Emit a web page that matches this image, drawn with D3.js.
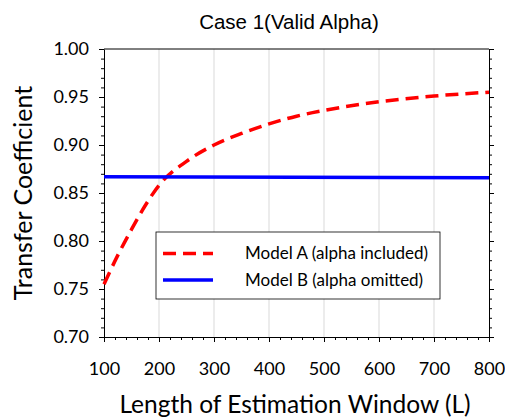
<!DOCTYPE html>
<html>
<head>
<meta charset="utf-8">
<script src="https://cdn.jsdelivr.net/npm/d3@7"></script>
<style>
  body { margin: 0; background: #fff; }
  text { fill: #000; }
</style>
</head>
<body>
<script>
// chart values
const windowLen = [100, 125, 150, 175, 200, 250, 300, 350, 400, 450, 500, 600, 700, 800];
const modelA = [0.755, 0.785, 0.812, 0.837, 0.858, 0.883, 0.900, 0.912, 0.922, 0.930, 0.936, 0.945, 0.951, 0.955];
const modelBx = [100, 800];
const modelB = [0.867, 0.866];
const xTicks = [100, 200, 300, 400, 500, 600, 700, 800];
const yTicks = [0.70, 0.75, 0.80, 0.85, 0.90, 0.95, 1.00];
const seriesNames = ["Model A (alpha included)", "Model B (alpha omitted)"];

const width = 505;
const height = 420;
const plotL = 104, plotR = 489, plotT = 49, plotB = 337;

const svg = d3.select("body")
              .append("svg")
              .attr("width", width)
              .attr("height", height);

let x = d3.scaleLinear().domain([100, 800]).range([plotL, plotR]);
let y = d3.scaleLinear().domain([0.70, 1.00]).range([plotB, plotT]);

// vertical grid
svg.append("g")
   .selectAll("line")
   .data(xTicks.slice(1, -1))
   .enter()
   .append("line")
   .attr("x1", d => x(d)).attr("x2", d => x(d))
   .attr("y1", plotT).attr("y2", plotB)
   .attr("stroke", "#d9d9d9")
   .attr("stroke-width", 1);

const fontTick = "Lato, 'Open Sans', sans-serif";

// x axis: major + minor ticks
const xMinor = d3.range(100, 801, 20);
svg.append("g")
   .attr("transform", "translate(0," + plotB + ")")
   .call(d3.axisBottom(x).tickValues(xMinor).tickSize(3).tickFormat(""))
   .call(g => g.select(".domain").remove());
svg.append("g")
   .attr("transform", "translate(0," + plotB + ")")
   .call(d3.axisBottom(x).tickValues(xTicks).tickSize(5).tickPadding(20).tickSizeOuter(0))
   .call(g => g.selectAll("text").style("font-family", fontTick).style("font-size", "18px"));

// y axis left
const yMinor = d3.range(70, 101, 1).map(v => v / 100);
svg.append("g")
   .attr("transform", "translate(" + plotL + ",0)")
   .call(d3.axisLeft(y).tickValues(yMinor).tickSize(3).tickFormat(""))
   .call(g => g.select(".domain").remove());
svg.append("g")
   .attr("transform", "translate(" + plotL + ",0)")
   .call(d3.axisLeft(y).tickValues(yTicks).tickSize(5).tickPadding(10).tickSizeOuter(0).tickFormat(d3.format(".2f")))
   .call(g => g.selectAll("text").style("font-family", fontTick).style("font-size", "18px"));

// right axis, ticks only
svg.append("g")
   .attr("transform", "translate(" + plotR + ",0)")
   .call(d3.axisRight(y).tickValues(yMinor).tickSize(3).tickFormat(""))
   .call(g => g.select(".domain").remove());
svg.append("g")
   .attr("transform", "translate(" + plotR + ",0)")
   .call(d3.axisRight(y).tickValues(yTicks).tickSize(5).tickSizeOuter(0).tickFormat(""));

// top border
svg.append("line")
   .attr("x1", plotL).attr("x2", plotR)
   .attr("y1", plotT).attr("y2", plotT)
   .attr("stroke", "#000");

// lines
const lineA = d3.line()
                .x((d, i) => x(windowLen[i]))
                .y(d => y(d))
                .curve(d3.curveMonotoneX);
svg.append("path")
   .datum(modelA)
   .attr("d", lineA)
   .attr("fill", "none")
   .attr("stroke", "#ff0000")
   .attr("stroke-width", 3.5)
   .attr("stroke-dasharray", "13,7");

const lineB = d3.line()
                .x((d, i) => x(modelBx[i]))
                .y(d => y(d));
svg.append("path")
   .datum(modelB)
   .attr("d", lineB)
   .attr("fill", "none")
   .attr("stroke", "#0000ff")
   .attr("stroke-width", 3.5);

// legend
const legend = svg.append("g").attr("transform", "translate(156,232)");
legend.append("rect")
      .attr("width", 284).attr("height", 67)
      .attr("fill", "#fff")
      .attr("stroke", "#000")
      .attr("stroke-width", 0.8);
legend.append("line")
      .attr("x1", 7).attr("x2", 57).attr("y1", 21.5).attr("y2", 21.5)
      .attr("stroke", "#ff0000").attr("stroke-width", 3.5).attr("stroke-dasharray", "13,7");
legend.append("line")
      .attr("x1", 7).attr("x2", 57).attr("y1", 48).attr("y2", 48)
      .attr("stroke", "#0000ff").attr("stroke-width", 3.5);
legend.selectAll("text.lab")
      .data(seriesNames)
      .enter()
      .append("text")
      .attr("class", "lab")
      .attr("x", 89)
      .attr("y", (d, i) => 27 + i * 27)
      .style("font-family", fontTick)
      .style("font-size", "17px")
      .text(d => d);

// titles
svg.append("text")
   .attr("x", 289).attr("y", 29)
   .attr("text-anchor", "middle")
   .style("font-family", "'Liberation Sans', Arial, sans-serif")
   .style("font-size", "20.5px")
   .text("Case 1(Valid Alpha)");

svg.append("text")
   .attr("x", 295).attr("y", 413)
   .attr("text-anchor", "middle")
   .style("font-family", fontTick)
   .style("font-size", "24.5px")
   .text("Length of Estimation Window (L)");

svg.append("text")
   .attr("transform", "translate(32,193) rotate(-90)")
   .attr("text-anchor", "middle")
   .style("font-family", fontTick)
   .style("font-size", "25px")
   .text("Transfer Coefficient");
</script>
</body>
</html>
